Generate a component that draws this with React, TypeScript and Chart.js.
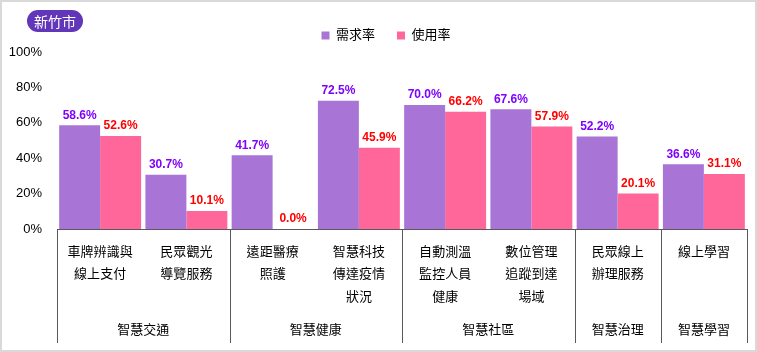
import React, { useEffect, useRef } from "react";
import { Chart, registerables } from "chart.js";

Chart.register(...registerables);

const categories: string[][] = [
  ["車牌辨識與", "線上支付"],
  ["民眾觀光", "導覽服務"],
  ["遠距醫療", "照護"],
  ["智慧科技", "傳達疫情", "狀況"],
  ["自動測溫", "監控人員", "健康"],
  ["數位管理", "追蹤到達", "場域"],
  ["民眾線上", "辦理服務"],
  ["線上學習"],
];
const groupNames: string[] = ["智慧交通", "智慧健康", "智慧社區", "智慧治理", "智慧學習"];
const groupSizes: number[] = [2, 2, 2, 1, 1];
const demandRate: number[] = [58.6, 30.7, 41.7, 72.5, 70.0, 67.6, 52.2, 36.6];
const usageRate: number[] = [52.6, 10.1, 0.0, 45.9, 66.2, 57.9, 20.1, 31.1];
const seriesNames: string[] = ["需求率", "使用率"];
const yMin = 0;
const yMax = 100;
const yStep = 20;

const FONT = '"Liberation Sans", "Noto Sans CJK TC", sans-serif';
const AXIS_COLOR = "#595959";
const BAR_COLORS = ["#A874D6", "#FF6699"];
const LABEL_COLORS = ["#7F00FF", "#FF0000"];

const valueLabelPlugin = {
  id: "valueLabels",
  afterDatasetsDraw(chart: any) {
    const ctx = chart.ctx;
    ctx.save();
    ctx.font = `bold 12px ${FONT}`;
    ctx.textAlign = "center";
    ctx.textBaseline = "bottom";
    chart.data.datasets.forEach((ds: any, di: number) => {
      const meta = chart.getDatasetMeta(di);
      ctx.fillStyle = LABEL_COLORS[di];
      meta.data.forEach((bar: any, i: number) => {
        const v = ds.data[i] as number;
        ctx.fillText(v.toFixed(1) + "%", bar.x, bar.y - 4);
      });
    });
    ctx.restore();
  },
};

const legendShiftPlugin = {
  id: "legendShift",
  afterLayout(chart: any) {
    if (chart.legend) {
      chart.legend.left += 8;
      chart.legend.right += 8;
    }
  },
};

const groupPlugin = {
  id: "groupAxis",
  afterDraw(chart: any) {
    const x = chart.scales.x;
    const ctx = chart.ctx;
    const half = (x.getPixelForValue(1) - x.getPixelForValue(0)) / 2;
    const top = x.top;
    const bottom = top + 114;
    ctx.save();
    ctx.strokeStyle = AXIS_COLOR;
    ctx.lineWidth = 1;
    ctx.fillStyle = "#000";
    ctx.font = `13px ${FONT}`;
    ctx.textAlign = "center";
    ctx.textBaseline = "middle";
    const line = (px: number) => {
      const p = Math.round(px) + 0.5;
      ctx.beginPath();
      ctx.moveTo(p, top);
      ctx.lineTo(p, bottom);
      ctx.stroke();
    };
    let start = 0;
    groupNames.forEach((g, gi) => {
      const left = x.getPixelForValue(start) - half;
      const right = x.getPixelForValue(start + groupSizes[gi] - 1) + half;
      if (gi === 0) line(left);
      line(right);
      ctx.fillText(g, (left + right) / 2, top + 101);
      start += groupSizes[gi];
    });
    ctx.restore();
  },
};

export default function App() {
  const ref = useRef<HTMLCanvasElement | null>(null);
  useEffect(() => {
    document.body.style.margin = "0";
    if (!ref.current) return;
    const chart = new Chart(ref.current, {
      type: "bar",
      data: {
        labels: categories,
        datasets: [
          {
            label: seriesNames[0],
            data: demandRate,
            backgroundColor: BAR_COLORS[0],
            borderWidth: 0,
          },
          {
            label: seriesNames[1],
            data: usageRate,
            backgroundColor: BAR_COLORS[1],
            borderWidth: 0,
          },
        ],
      },
      options: {
        animation: false,
        responsive: false,
        devicePixelRatio: 1,
        layout: { padding: { left: 9, right: 10, top: 7, bottom: 10 } },
        datasets: { bar: { categoryPercentage: 0.95, barPercentage: 1 } },
        plugins: {
          tooltip: { enabled: false },
          legend: {
            display: true,
            position: "top",
            labels: {
              boxWidth: 8,
              boxHeight: 8,
              padding: 22,
              color: "#000",
              font: { size: 13, family: FONT },
            },
          },
        },
        scales: {
          x: {
            grid: { display: false, drawTicks: false },
            border: { display: true, color: AXIS_COLOR, width: 1 },
            ticks: {
              color: "#000",
              padding: 12,
              maxRotation: 0,
              autoSkip: false,
              font: { size: 13, family: FONT, lineHeight: 1.73 },
            },
            afterFit: (scale: any) => {
              scale.height = 113;
            },
          },
          y: {
            min: yMin,
            max: yMax,
            grid: { display: false, drawTicks: false },
            border: { display: false },
            ticks: {
              stepSize: yStep,
              color: "#000",
              padding: 15,
              font: { size: 13, family: FONT },
              callback: (v: any) => v + "%",
            },
            afterFit: (scale: any) => {
              scale.width = 48;
            },
          },
        },
      },
      plugins: [valueLabelPlugin, groupPlugin, legendShiftPlugin],
    });
    return () => chart.destroy();
  }, []);

  return (
    <div style={{ position: "relative", width: 757, height: 352 }}>
      <canvas ref={ref} width={757} height={352} style={{ position: "absolute", left: 0, top: 0 }} />
      <div
        style={{
          position: "absolute",
          left: 0,
          top: 0,
          width: 757,
          height: 352,
          boxSizing: "border-box",
          border: "2px solid #d9d9d9",
          pointerEvents: "none",
        }}
      />
      <div
        style={{
          position: "absolute",
          left: 27,
          top: 10,
          width: 56,
          height: 22,
          borderRadius: 11,
          background: "#6236B8",
          color: "#fff",
          fontFamily: '"Noto Sans CJK TC", sans-serif',
          fontSize: 14,
          lineHeight: "22px",
          textAlign: "center",
        }}
      >
        新竹市
      </div>
    </div>
  );
}
